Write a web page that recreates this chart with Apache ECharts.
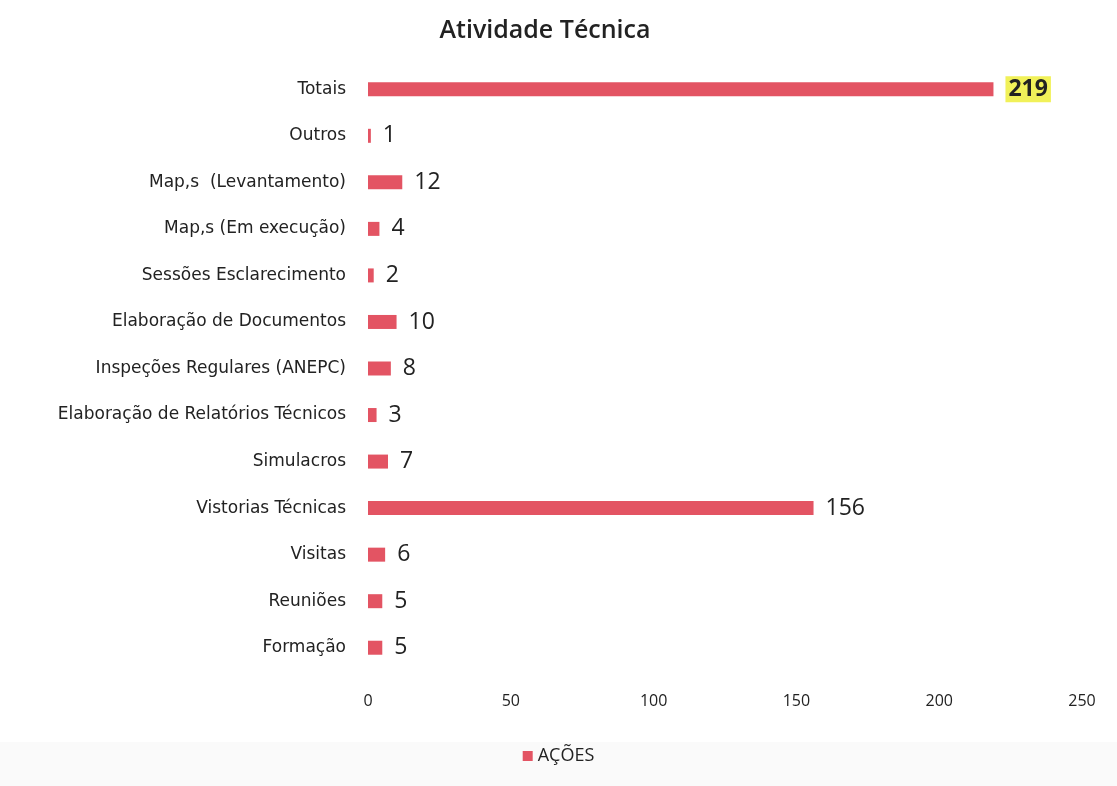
<!DOCTYPE html>
<html>
<head>
<meta charset="utf-8">
<script src="https://cdn.jsdelivr.net/npm/echarts@6/dist/echarts.min.js"></script>
<style>
  html, body { margin: 0; padding: 0; background: #ffffff; }
  #chart { width: 1117px; height: 786px; }
</style>
</head>
<body>
<div id="chart"></div>
<script>
// Technical activity counts, listed bottom to top
const categories = [
  'Formação', 'Reuniões', 'Visitas', 'Vistorias Técnicas', 'Simulacros',
  'Elaboração de Relatórios Técnicos', 'Inspeções Regulares (ANEPC)',
  'Elaboração de Documentos', 'Sessões Esclarecimento', 'Map,s (Em execução)',
  'Map,s  (Levantamento)', 'Outros', 'Totais'
];
const acoes = [5, 5, 6, 156, 7, 3, 8, 10, 2, 4, 12, 1, 219];
const seriesName = 'AÇÕES';
const chartTitle = 'Atividade Técnica';
const xTicks = { min: 0, max: 250, interval: 50 };

const labelFont = '"DejaVu Sans", sans-serif';
const textFont = '"Open Sans", sans-serif';
const barColor = '#e35463';

const chart = echarts.init(document.getElementById('chart'));
chart.setOption({
  backgroundColor: '#ffffff',
  animation: false,
  graphic: [{
    type: 'rect',
    left: 0, top: 742,
    shape: { width: 1117, height: 44 },
    style: { fill: '#fafafa' },
    z: -10
  }],
  title: {
    text: chartTitle,
    left: 540, top: 13,
    textAlign: 'center',
    textStyle: { fontFamily: textFont, fontSize: 25, fontWeight: 600, color: '#222' }
  },
  legend: {
    data: [seriesName],
    left: 'center', top: 742,
    itemWidth: 10, itemHeight: 10, itemGap: 3,
    icon: 'rect',
    textStyle: { fontFamily: textFont, fontSize: 18, color: '#222' }
  },
  grid: { left: 368, right: 35, top: 66, bottom: 115, containLabel: false },
  xAxis: {
    type: 'value',
    min: xTicks.min, max: xTicks.max, interval: xTicks.interval,
    axisLine: { show: false },
    axisTick: { show: false },
    splitLine: { show: false },
    axisLabel: { margin: 22, fontFamily: textFont, fontSize: 16, color: '#222' }
  },
  yAxis: {
    type: 'category',
    data: categories,
    axisLine: { show: false },
    axisTick: { show: false },
    axisLabel: { margin: 22, fontFamily: labelFont, fontSize: 17, color: '#222' }
  },
  series: [{
    name: seriesName,
    type: 'bar',
    data: acoes.map((v, i) => {
      const item = { value: v };
      if (categories[i] === 'Totais') {
        item.label = {
          fontWeight: 'bold',
          backgroundColor: '#f1f159',
          padding: [3, 3, 0, 3]
        };
      }
      return item;
    }),
    barWidth: 14,
    itemStyle: { color: barColor },
    label: {
      show: true,
      position: 'right',
      distance: 12,
      fontFamily: textFont,
      fontSize: 23,
      color: '#222'
    }
  }]
});
</script>
</body>
</html>
